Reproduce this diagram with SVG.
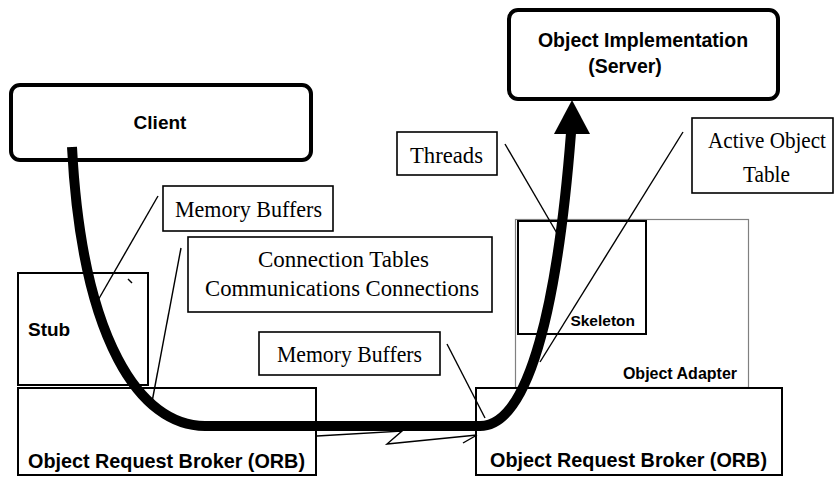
<svg xmlns="http://www.w3.org/2000/svg" width="835" height="477" viewBox="0 0 835 477">
<style>
.box{fill:#fff;stroke:#000;stroke-width:2}
.rbox{fill:#fff;stroke:#000;stroke-width:4}
.lbl{fill:#fff;stroke:#000;stroke-width:1.6}
.oa{fill:#fff;stroke:#808080;stroke-width:1.2}
.sans{font-family:"Liberation Sans",Arial,sans-serif;font-weight:bold;fill:#000}
.serif{font-family:"Liberation Serif","Times New Roman",serif;font-size:24px;fill:#000}
.thin{fill:none;stroke:#000;stroke-width:1.4}
.thick{fill:none;stroke:#000;stroke-width:10}
</style>
<rect width="835" height="477" fill="#fff"/>
<g id="object-adapter">
<rect class="oa" x="515.5" y="219.5" width="233" height="168"/>
<text class="sans" x="737" y="379" font-size="16" text-anchor="end">Object Adapter</text>
</g>
<g id="skeleton">
<rect class="box" x="518" y="221" width="128" height="113"/>
<text class="sans" x="635" y="326" font-size="15.5" text-anchor="end">Skeleton</text>
</g>
<g id="client">
<rect class="rbox" x="11" y="85" width="300" height="75" rx="9"/>
<text class="sans" x="160" y="129" font-size="19" text-anchor="middle">Client</text>
</g>
<g id="server">
<rect class="rbox" x="509" y="10" width="269" height="89" rx="9"/>
<text class="sans" x="643" y="47" font-size="19.5" text-anchor="middle">Object Implementation</text>
<text class="sans" x="625" y="73" font-size="19.5" text-anchor="middle">(Server)</text>
</g>
<g id="stub">
<rect class="box" x="18" y="273" width="130" height="112"/>
<text class="sans" x="28" y="336" font-size="19">Stub</text>
</g>
<g id="orb-left">
<rect class="box" x="18" y="388" width="298" height="87"/>
<text class="sans" x="28" y="468" font-size="19.8">Object Request Broker (ORB)</text>
</g>
<g id="orb-right">
<rect class="box" x="476" y="388" width="306" height="87"/>
<text class="sans" x="490" y="467" font-size="19.8">Object Request Broker (ORB)</text>
</g>
<g id="memory-buffers-1">
<rect class="lbl" x="163" y="186" width="170" height="45"/>
<text class="serif" x="175" y="217" textLength="147" lengthAdjust="spacingAndGlyphs">Memory Buffers</text>
</g>
<g id="connection-tables">
<rect class="lbl" x="188" y="237" width="304" height="75"/>
<text class="serif" x="258" y="267" textLength="171" lengthAdjust="spacingAndGlyphs">Connection Tables</text>
<text class="serif" x="205" y="296" textLength="274" lengthAdjust="spacingAndGlyphs">Communications Connections</text>
</g>
<g id="memory-buffers-2">
<rect class="lbl" x="259" y="332" width="181" height="43"/>
<text class="serif" x="277" y="362" textLength="145" lengthAdjust="spacingAndGlyphs">Memory Buffers</text>
</g>
<g id="threads">
<rect class="lbl" x="397" y="132" width="100" height="43"/>
<text class="serif" x="410" y="163" textLength="73" lengthAdjust="spacingAndGlyphs">Threads</text>
</g>
<g id="active-object-table">
<rect class="lbl" x="692" y="118" width="141" height="75"/>
<text class="serif" x="708" y="148" textLength="118" lengthAdjust="spacingAndGlyphs">Active Object</text>
<text class="serif" x="743" y="182" textLength="47" lengthAdjust="spacingAndGlyphs">Table</text>
</g>
<g id="connectors">
<line class="thin" x1="158" y1="196" x2="97" y2="302"/>
<line class="thin" x1="181" y1="248" x2="152" y2="402"/>
<line class="thin" x1="447" y1="344" x2="485" y2="418"/>
<line class="thin" x1="505" y1="144" x2="558" y2="235"/>
<line class="thin" x1="683" y1="132" x2="540" y2="362"/>
<line class="thin" x1="128" y1="279" x2="132" y2="283"/>
<polyline class="thin" points="317,436 402,431 387,444 477,435"/>
<line class="thin" x1="477" y1="435" x2="463" y2="443"/>
<path class="thick" d="M72,147 C82,340 140,426 205,426 L480,426 C530,426 558,300 571,133"/>
<polygon points="572,100 590,134 554,134" fill="#000"/>
</g>
</svg>
